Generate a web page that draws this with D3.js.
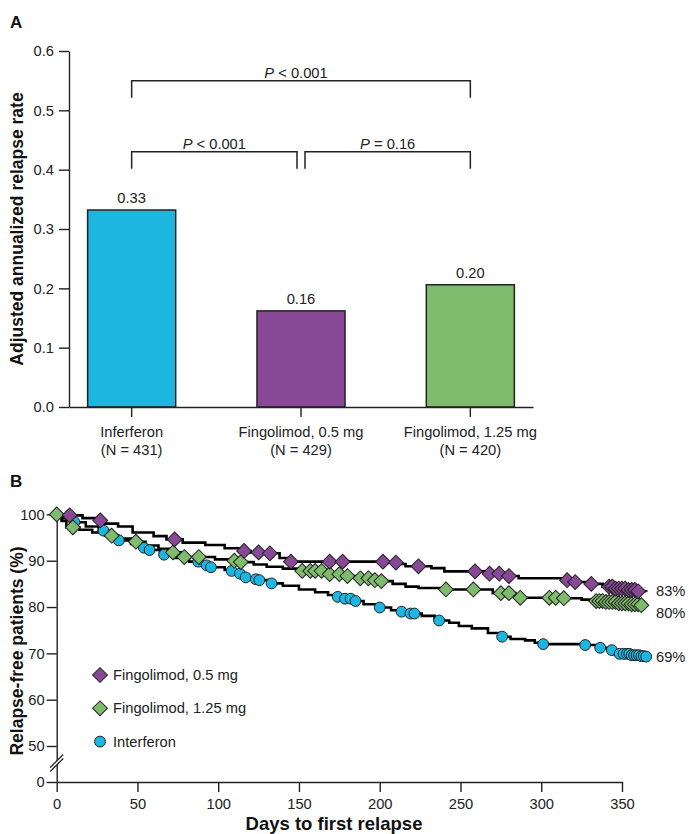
<!DOCTYPE html>
<html>
<head>
<meta charset="utf-8">
<title>Annualized relapse rate and time to first relapse</title>
<style>
body { margin: 0; background: #fff; }
svg { display: block; font-family: "Liberation Sans", Arial, sans-serif; }
.tick text { font-size: 14.7px; fill: #222; }
.tick line, .domain { stroke: #222; stroke-width: 1.4; }
.bar { stroke: #222; stroke-width: 1.5; }
.bracket { fill: none; stroke: #222; stroke-width: 1.5; }
.km { fill: none; stroke: #000; stroke-width: 2.6; }
.mark { stroke: #222; stroke-width: 1; }
.lbl { font-size: 14.7px; fill: #222; }
.title { font-size: 17.5px; font-weight: bold; fill: #111; }
.xtitle { font-size: 18.5px; font-weight: bold; fill: #111; }
.panel { font-size: 17px; font-weight: bold; fill: #111; }
</style>
</head>
<body>
<script src="https://d3js.org/d3.v7.min.js"></script>
<script>

// ---- Panel A data
var groups = ["Inferferon", "Fingolimod, 0.5 mg", "Fingolimod, 1.25 mg"];
var groupN = ["(N = 431)", "(N = 429)", "(N = 420)"];
var rates = [0.332, 0.162, 0.206];
var rateLabels = ["0.33", "0.16", "0.20"];
var rateTicks = [0, 0.1, 0.2, 0.3, 0.4, 0.5, 0.6];
var barColors = ["#1cb6e1", "#874896", "#7fbb6c"];

// p-value brackets: which groups, at what rate level, and the text
var pPairs = [[0, 2], [0, 1], [1, 2]];
var pLevels = [0.55, 0.43, 0.43];
var pSigns = ["< 0.001", "< 0.001", "= 0.16"];

// ---- Panel B data (Kaplan-Meier, [day, % relapse-free])
var seriesNames = ["Fingolimod, 0.5 mg", "Fingolimod, 1.25 mg", "Interferon"];
var seriesColors = ["#874896", "#7fbb6c", "#1cb6e1"];
var seriesShapes = ["diamond", "diamond", "circle"];
var endLabels = ["83%", "80%", "69%"];

var fingo05 = [[0,100],[8,99.8],[16,99.2],[24,98.7],[30,98.0],[38,97.4],[47,96.1],[60,95.3],[68,94.6],
  [78,93.9],[92,93.4],[104,92.7],[114,92.1],[120,91.8],[128,91.6],[138,90.6],[144,89.8],[204,89.6],
  [211,89.3],[216,88.8],[232,88.4],[240,87.7],[265,87.2],[276,86.7],[286,86.2],[313,85.8],[320,85.4],
  [328,85.0],[338,84.4],[346,84.0],[353,83.7],[359,83.4],[365,83.3]];
var fingo125 = [[0,100],[3,98.6],[6,97.2],[14,96.7],[22,96.1],[30,95.4],[38,94.8],[46,94.1],[55,93.3],
  [63,92.6],[70,91.8],[77,90.8],[98,90.3],[108,90.0],[114,89.7],[122,89.2],[130,88.7],[140,88.3],
  [150,87.8],[167,87.1],[178,86.7],[185,86.2],[195,85.8],[200,85.6],[208,85.0],[216,84.4],[224,84.1],
  [240,83.8],[270,83.0],[284,82.4],[287,82.0],[312,81.9],[325,81.6],[332,81.3],[340,81.1],[348,80.8],
  [356,80.6],[362,80.4],[365,80.3]];
var interferon = [[0,100],[4,99.2],[9,98.3],[18,97.4],[26,96.5],[32,95.6],[37,94.4],[46,93.6],[53,92.8],
  [56,92.3],[64,91.3],[72,90.6],[82,89.8],[90,89.0],[94,88.6],[104,88.0],[108,87.8],[112,87.2],[116,86.4],
  [121,86.0],[124,85.8],[131,85.1],[140,84.6],[150,83.8],[160,83.2],[168,82.6],[173,82.2],[177,81.8],
  [183,81.3],[190,80.6],[198,79.9],[207,79.3],[212,79.0],[216,78.6],[226,78.1],[234,77.1],[243,76.6],
  [249,75.9],[257,75.4],[267,74.4],[274,73.6],[281,73.1],[290,72.8],[296,72.3],[300,72.0],[326,71.8],
  [334,71.2],[341,70.7],[347,69.9],[356,69.6],[362,69.4],[365,69.3]];

// censoring marks (days)
var fingo05Marks = [8,27,73,116,125,132,145,169,177,202,210,224,259,268,274,280,316,321,331,
  342,344,346,348,350,352,354,356,358,360];
var fingo125Marks = [0,10,34,49,72,79,88,110,114,152,157,160,164,169,175,180,188,193,197,201,241,258,
  275,280,287,305,309,314,334,336,338,340,342,344,346,348,350,352,354,356,358,360,362];
var interferonMarks = [11,29,38.5,54,57.5,66.5,87.6,92.8,95.5,108.3,113.4,117,123.3,125.5,133,174,178.5,
  182,185,200,213.5,219,221.5,236.8,275.8,301.2,327.2,336.5,343.7,348.5,351,353,354.5,356,357.5,359,
  360.5,362,363.5,365];

var dayTicks = [0, 50, 100, 150, 200, 250, 300, 350];
var pctTicks = [0, 50, 60, 70, 80, 90, 100];

var curves = [fingo05, fingo125, interferon];
var marks = [fingo05Marks, fingo125Marks, interferonMarks];

var svg = d3.select("body").append("svg")
    .attr("width", 689)
    .attr("height", 834);

// =============== Panel A ===============
svg.append("text").attr("class", "panel").attr("x", 10).attr("y", 28).text("A");

var xA = d3.scaleBand()
    .domain(groups)
    .range([69, 533])
    .paddingInner(0.48)
    .paddingOuter(0.11);
var yA = d3.scaleLinear()
    .domain([0, 0.6])
    .range([407, 51]);

svg.selectAll(".bar")
    .data(rates)
  .enter().append("rect")
    .attr("class", "bar")
    .attr("x", function(d, i) { return xA(groups[i]); })
    .attr("width", xA.bandwidth())
    .attr("y", function(d) { return yA(d); })
    .attr("height", function(d) { return yA(0) - yA(d); })
    .attr("fill", function(d, i) { return barColors[i]; });

svg.selectAll(".val")
    .data(rates)
  .enter().append("text")
    .attr("class", "lbl")
    .attr("text-anchor", "middle")
    .attr("x", function(d, i) { return xA(groups[i]) + xA.bandwidth() / 2; })
    .attr("y", function(d) { return yA(d) - 7; })
    .text(function(d, i) { return rateLabels[i]; });

// axes
svg.append("g")
    .attr("transform", "translate(69,0)")
    .call(d3.axisLeft(yA).tickValues(rateTicks).tickFormat(d3.format(".1f"))
      .tickSize(10).tickSizeOuter(0).tickPadding(5));

svg.append("g")
    .attr("transform", "translate(0,407)")
    .call(d3.axisBottom(xA).tickSize(10).tickSizeOuter(0).tickFormat(""));

groups.forEach(function(g, i) {
  var cx = xA(g) + xA.bandwidth() / 2;
  svg.append("text").attr("class", "lbl").attr("text-anchor", "middle")
      .attr("x", cx).attr("y", 437).text(g);
  svg.append("text").attr("class", "lbl").attr("text-anchor", "middle")
      .attr("x", cx).attr("y", 454.5).text(groupN[i]);
});

svg.append("text")
    .attr("class", "title")
    .attr("text-anchor", "middle")
    .attr("transform", "translate(22.5,229)rotate(-90)")
    .text("Adjusted annualized relapse rate");

// p-value brackets
var gap = 4;
pPairs.forEach(function(p, i) {
  var x1 = xA(groups[p[0]]) + xA.bandwidth() / 2;
  var x2 = xA(groups[p[1]]) + xA.bandwidth() / 2;
  // brackets on the same level that meet at a bar are pulled apart a little
  pPairs.forEach(function(q, j) {
    if (j === i || pLevels[j] !== pLevels[i]) return;
    if (q[1] === p[0]) x1 += gap;
    if (q[0] === p[1]) x2 -= gap;
  });
  var yb = yA(pLevels[i]);
  svg.append("path")
      .attr("class", "bracket")
      .attr("d", "M" + x1 + "," + (yb + 17) + "V" + yb + "H" + x2 + "V" + (yb + 17));
  var t = svg.append("text").attr("class", "lbl").attr("text-anchor", "middle")
      .attr("x", (x1 + x2) / 2 - (i === 0 ? 5 : 0)).attr("y", yb - 3);
  t.append("tspan").style("font-style", "italic").text("P");
  t.append("tspan").text(" " + pSigns[i]);
});

// =============== Panel B ===============
svg.append("text").attr("class", "panel").attr("x", 10).attr("y", 487).text("B");

var xB = d3.scaleLinear()
    .domain([0, 350])
    .range([56.7, 622]);
var unit = (746 - 514.4) / 50;
var yB = d3.scaleLinear()
    .domain([0, 44, 100])
    .range([782, 514.4 + 56 * unit, 514.4]);

svg.append("g")
    .attr("transform", "translate(0,782)")
    .call(d3.axisBottom(xB).tickValues(dayTicks).tickSize(10).tickSizeOuter(0).tickPadding(7));

svg.append("g")
    .attr("transform", "translate(56.7,0)")
    .call(d3.axisLeft(yB).tickValues(pctTicks).tickSize(10).tickSizeOuter(0).tickPadding(2));

// axis break
var bx = 56.7, by = 764;
svg.append("path")
    .attr("d", "M" + (bx - 6) + "," + (by + 3) + "L" + (bx + 6) + "," + (by - 9) +
               "L" + (bx + 6) + "," + (by - 5) + "L" + (bx - 6) + "," + (by + 7) + "Z")
    .attr("fill", "#fff");
[0, 4].forEach(function(o) {
  svg.append("line")
      .attr("x1", bx - 6.5).attr("y1", by + 3.5 + o)
      .attr("x2", bx + 6.5).attr("y2", by - 9.5 + o)
      .attr("stroke", "#222").attr("stroke-width", 1.3);
});

svg.append("text")
    .attr("class", "title")
    .attr("text-anchor", "middle")
    .attr("transform", "translate(22.5,651)rotate(-90)")
    .text("Relapse-free patients (%)");

svg.append("text")
    .attr("class", "xtitle")
    .attr("text-anchor", "middle")
    .attr("x", 334)
    .attr("y", 830)
    .text("Days to first relapse");

function valueAt(curve, day) {
  var i = d3.bisector(function(d) { return d[0]; }).right(curve, day) - 1;
  return curve[Math.max(i, 0)][1];
}

var line = d3.line()
    .x(function(d) { return xB(d[0]); })
    .y(function(d) { return yB(d[1]); })
    .curve(d3.curveStepAfter);

curves.forEach(function(c) {
  svg.append("path").datum(c).attr("class", "km").attr("d", line);
});

var diamond = d3.symbol().type(d3.symbolSquare).size(110);
var circle = d3.symbol().type(d3.symbolCircle).size(92);

function drawMark(g, shape, color, x, y) {
  var p = g.append("path")
      .attr("class", "mark")
      .attr("fill", color);
  if (shape === "diamond") {
    p.attr("d", diamond()).attr("transform", "translate(" + x + "," + y + ")rotate(45)");
  } else {
    p.attr("d", circle()).attr("transform", "translate(" + x + "," + y + ")");
  }
}

[2, 1, 0].forEach(function(s) {
  var g = svg.append("g");
  marks[s].forEach(function(day) {
    drawMark(g, seriesShapes[s], seriesColors[s], xB(day), yB(valueAt(curves[s], day)));
  });
});

// end-of-curve labels
var endShift = [-1, 7, 0];
curves.forEach(function(c, s) {
  svg.append("text").attr("class", "lbl")
      .attr("x", 656)
      .attr("y", yB(c[c.length - 1][1]) + endShift[s])
      .attr("dy", "0.35em")
      .text(endLabels[s]);
});

// legend
var legend = svg.append("g").attr("transform", "translate(100,675)");
seriesNames.forEach(function(n, i) {
  drawMark(legend, seriesShapes[i], seriesColors[i], 0, i * 33.3);
  legend.append("text").attr("class", "lbl")
      .attr("x", 13).attr("y", i * 33.3).attr("dy", "0.35em")
      .text(n);
});

</script>
</body>
</html>
